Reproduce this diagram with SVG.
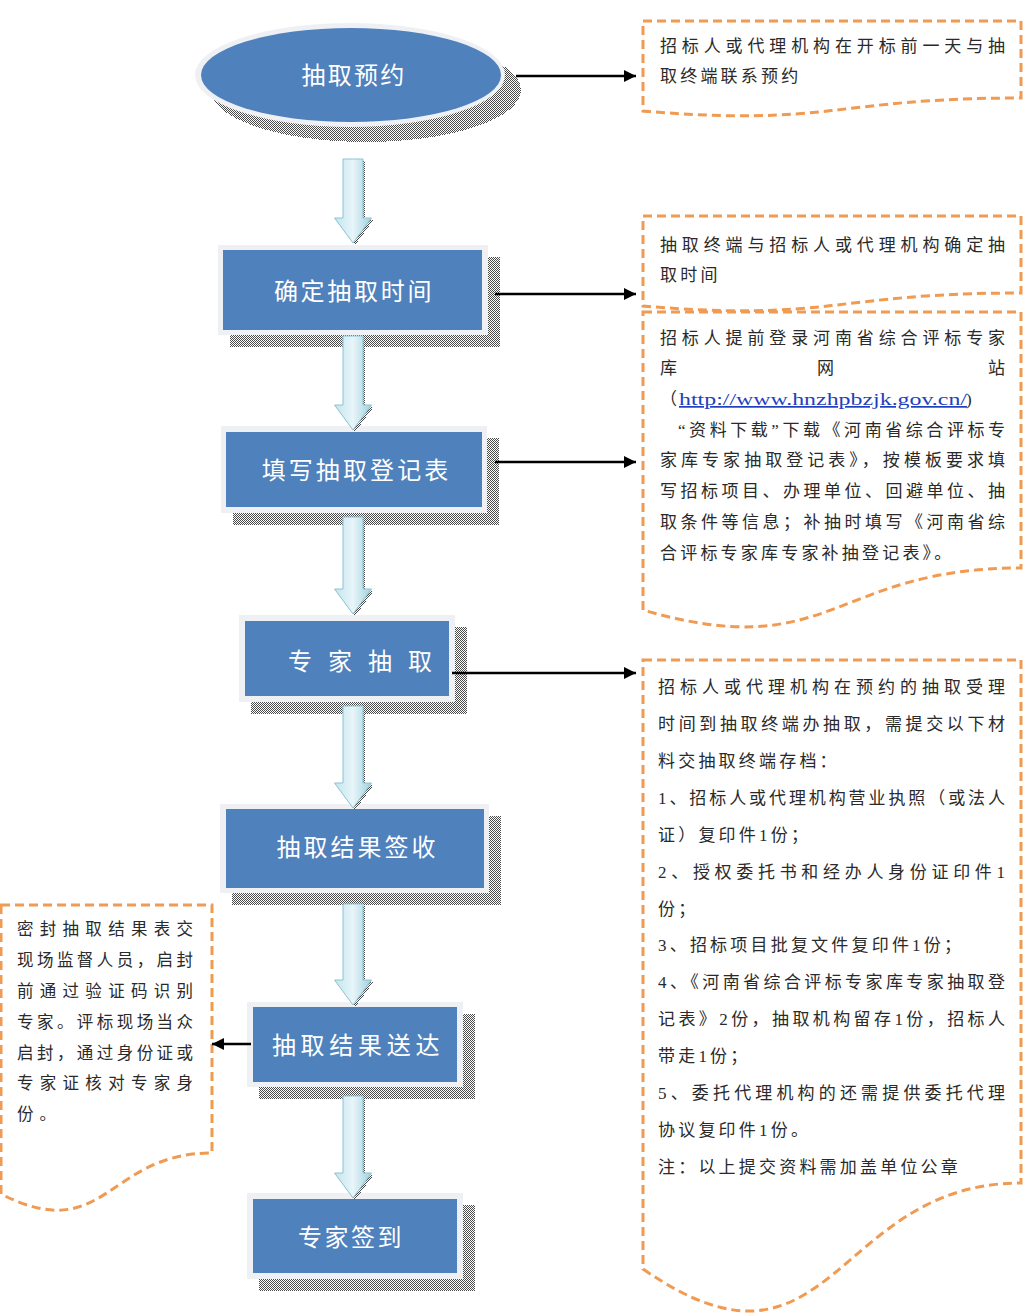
<svg xmlns="http://www.w3.org/2000/svg" width="1028" height="1314" viewBox="0 0 1028 1314">
<defs>
<pattern id="hatch" width="2" height="2" patternUnits="userSpaceOnUse">
<rect width="2" height="2" fill="#ffffff"/>
<rect width="1" height="1" fill="#4a4a4a"/>
<rect x="1" y="1" width="1" height="1" fill="#4a4a4a"/>
</pattern>
<linearGradient id="ag" x1="0" y1="0" x2="1" y2="0">
<stop offset="0" stop-color="#C2E5EE"/>
<stop offset="0.5" stop-color="#E8F5F9"/>
<stop offset="1" stop-color="#9ED1DF"/>
</linearGradient>
<marker id="ah" viewBox="0 0 12 12" refX="12" refY="6" markerWidth="12" markerHeight="12" markerUnits="userSpaceOnUse" orient="auto">
<path d="M0,0 L12,6 L0,12 Z" fill="#000"/>
</marker>
</defs>
<style>
.shadow{fill:url(#hatch);shape-rendering:crispEdges}
.outer{fill:#EEF0F3}
.inner{fill:#4F81BD}
.nt{font-family:"Noto Sans CJK SC",sans-serif;font-size:24px;fill:#ffffff;text-anchor:middle}
.call{fill:#ffffff;stroke:#F09A52;stroke-width:3;stroke-dasharray:9 5}
.ct{font-family:"Liberation Serif","Noto Sans CJK SC",serif;font-size:17px;fill:#2a2a2a}
.ls{letter-spacing:3.2px}
.lt{font-family:"Liberation Serif","Noto Sans CJK SC",serif;font-size:16.5px;fill:#2a2a2a}
.link{fill:#1F3FBF;text-decoration:underline}
.blk{fill:url(#ag);stroke:#8CC3D3;stroke-width:1}
.conn{stroke:#000;stroke-width:2.5;fill:none;marker-end:url(#ah)}
</style>
<rect width="1028" height="1314" fill="#ffffff"/>

<g id="n0">
<ellipse class="shadow" cx="366" cy="90" rx="155" ry="52"/>
<ellipse class="outer" cx="350" cy="75" rx="155" ry="52"/>
<ellipse class="inner" cx="351" cy="75" rx="150" ry="47"/>
<text class="nt" x="354" y="84" style="letter-spacing:2.2px">抽取预约</text>
</g>

<g id="n1">
<rect class="shadow" x="230" y="257" width="270" height="90"/>
<rect class="outer" x="218" y="245" width="270" height="90"/>
<rect class="inner" x="223" y="250" width="259" height="80"/>
<text class="nt" x="354" y="300" style="letter-spacing:2.7px">确定抽取时间</text>
</g>

<g id="n2">
<rect class="shadow" x="233" y="438" width="266" height="87"/>
<rect class="outer" x="221" y="426" width="266" height="87"/>
<rect class="inner" x="226" y="432" width="256" height="75"/>
<text class="nt" x="356.5" y="478.5" style="letter-spacing:3.1px">填写抽取登记表</text>
</g>

<g id="n3">
<rect class="shadow" x="251" y="627" width="216" height="87"/>
<rect class="outer" x="239" y="615" width="216" height="87"/>
<rect class="inner" x="245" y="621" width="204" height="75"/>
<text class="nt" y="670" style="text-anchor:start"><tspan x="288">专</tspan><tspan x="328">家</tspan><tspan x="368">抽</tspan><tspan x="408">取</tspan></text>
</g>

<g id="n4">
<rect class="shadow" x="232" y="816" width="269" height="89"/>
<rect class="outer" x="220" y="804" width="269" height="89"/>
<rect class="inner" x="226" y="809" width="258" height="79"/>
<text class="nt" x="357.5" y="855.5" style="letter-spacing:3px">抽取结果签收</text>
</g>

<g id="n5">
<rect class="shadow" x="259" y="1014" width="216" height="85"/>
<rect class="outer" x="247" y="1002" width="216" height="85"/>
<rect class="inner" x="253" y="1007" width="204" height="75"/>
<text class="nt" x="358" y="1054" style="letter-spacing:4.7px">抽取结果送达</text>
</g>

<g id="n6">
<rect class="shadow" x="259" y="1205" width="216" height="86"/>
<rect class="outer" x="247" y="1193" width="216" height="86"/>
<rect class="inner" x="253" y="1199" width="204" height="74"/>
<text class="nt" x="351" y="1245.5" style="letter-spacing:2.5px">专家签到</text>
</g>

<g id="c1">
<path class="call" d="M643,21 H1021 V98 C832,98 832,127 643,111 Z"/>
<text class="ct" x="660" y="52" textLength="345" lengthAdjust="spacing">招标人或代理机构在开标前一天与抽</text>
<text class="ct ls" x="660" y="82">取终端联系预约</text>
</g>

<g id="c2">
<path class="call" d="M643,216 H1021 V293 C832,293 832,322 643,306 Z"/>
<text class="ct" x="660" y="251" textLength="345" lengthAdjust="spacing">抽取终端与招标人或代理机构确定抽</text>
<text class="ct ls" x="660" y="281">取时间</text>
</g>

<g id="c3">
<path class="call" d="M643,312 H1021 V568 C832,568 832,665 643,610 Z"/>
<text class="ct" x="660" y="344" textLength="345" lengthAdjust="spacing">招标人提前登录河南省综合评标专家</text>
<text class="ct" y="374"><tspan x="660">库</tspan><tspan x="817">网</tspan><tspan x="988">站</tspan></text>
<text class="ct" x="660" y="405">（</text>
<text class="ct link" x="679" y="405" textLength="288" lengthAdjust="spacingAndGlyphs">http://www.hnzhpbzjk.gov.cn/</text>
<text class="ct" x="966" y="405">)</text>
<text class="ct" x="678" y="436" textLength="327" lengthAdjust="spacing">“资料下载”下载《河南省综合评标专</text>
<text class="ct" x="660" y="466" textLength="345" lengthAdjust="spacing">家库专家抽取登记表》，按模板要求填</text>
<text class="ct" x="660" y="497" textLength="345" lengthAdjust="spacing">写招标项目、办理单位、回避单位、抽</text>
<text class="ct" x="660" y="528" textLength="345" lengthAdjust="spacing">取条件等信息；补抽时填写《河南省综</text>
<text class="ct ls" x="660" y="559">合评标专家库专家补抽登记表》。</text>
</g>

<g id="c4">
<path class="call" d="M643,660 H1021 V1183 C832,1183 832,1400 643,1269 Z"/>
<text class="ct" x="658" y="693" textLength="347" lengthAdjust="spacing">招标人或代理机构在预约的抽取受理</text>
<text class="ct" x="658" y="730" textLength="347" lengthAdjust="spacing">时间到抽取终端办抽取，需提交以下材</text>
<text class="ct ls" x="658" y="767">料交抽取终端存档：</text>
<text class="ct" x="658" y="804" textLength="347" lengthAdjust="spacing">1、招标人或代理机构营业执照（或法人</text>
<text class="ct ls" x="658" y="841">证）复印件1份；</text>
<text class="ct" x="658" y="878" textLength="347" lengthAdjust="spacing">2、授权委托书和经办人身份证印件1</text>
<text class="ct ls" x="658" y="915">份；</text>
<text class="ct ls" x="658" y="951">3、招标项目批复文件复印件1份；</text>
<text class="ct" x="658" y="988" textLength="347" lengthAdjust="spacing">4、《河南省综合评标专家库专家抽取登</text>
<text class="ct" x="658" y="1025" textLength="347" lengthAdjust="spacing">记表》2份，抽取机构留存1份，招标人</text>
<text class="ct ls" x="658" y="1062">带走1份；</text>
<text class="ct" x="658" y="1099" textLength="347" lengthAdjust="spacing">5、委托代理机构的还需提供委托代理</text>
<text class="ct ls" x="658" y="1136">协议复印件1份。</text>
<text class="ct ls" x="658" y="1173">注：以上提交资料需加盖单位公章</text>
</g>

<g id="c5">
<path class="call" d="M1,905 H212 V1153 C106,1153 106,1247 1,1194 Z"/>
<text class="lt" x="17" y="935" textLength="176" lengthAdjust="spacing">密封抽取结果表交</text>
<text class="lt" x="17" y="966" textLength="176" lengthAdjust="spacing">现场监督人员，启封</text>
<text class="lt" x="17" y="997" textLength="176" lengthAdjust="spacing">前通过验证码识别</text>
<text class="lt" x="17" y="1028" textLength="176" lengthAdjust="spacing">专家。评标现场当众</text>
<text class="lt" x="17" y="1059" textLength="176" lengthAdjust="spacing">启封，通过身份证或</text>
<text class="lt" x="17" y="1089" textLength="176" lengthAdjust="spacing">专家证核对专家身</text>
<text class="lt" x="17" y="1120" style="letter-spacing:6px">份。</text>
</g>

<g id="connectors">
<g id="flow">
<path class="shadow" transform="translate(2,2)" d="M343,159 H363 V218 H371.5 L353,243 L334.5,218 H343 Z"/>
<path class="blk" d="M343,159 H363 V218 H371.5 L353,243 L334.5,218 H343 Z"/>
<path class="shadow" transform="translate(2,2)" d="M343,336 H363 V405 H371.5 L353,430 L334.5,405 H343 Z"/>
<path class="blk" d="M343,336 H363 V405 H371.5 L353,430 L334.5,405 H343 Z"/>
<path class="shadow" transform="translate(2,2)" d="M343,517 H363 V589 H371.5 L353,614 L334.5,589 H343 Z"/>
<path class="blk" d="M343,517 H363 V589 H371.5 L353,614 L334.5,589 H343 Z"/>
<path class="shadow" transform="translate(2,2)" d="M343,706 H363 V783 H371.5 L353,808 L334.5,783 H343 Z"/>
<path class="blk" d="M343,706 H363 V783 H371.5 L353,808 L334.5,783 H343 Z"/>
<path class="shadow" transform="translate(2,2)" d="M343,904 H363 V980 H371.5 L353,1005 L334.5,980 H343 Z"/>
<path class="blk" d="M343,904 H363 V980 H371.5 L353,1005 L334.5,980 H343 Z"/>
<path class="shadow" transform="translate(2,2)" d="M343,1096 H363 V1173 H371.5 L353,1198 L334.5,1173 H343 Z"/>
<path class="blk" d="M343,1096 H363 V1173 H371.5 L353,1198 L334.5,1173 H343 Z"/>
</g>
<path class="conn" d="M516,76 H636"/>
<path class="conn" d="M495,294 H636"/>
<path class="conn" d="M495,462 H636"/>
<path class="conn" d="M452,673 H636"/>
<path class="conn" d="M251,1044 H212"/>
</g>
</svg>
